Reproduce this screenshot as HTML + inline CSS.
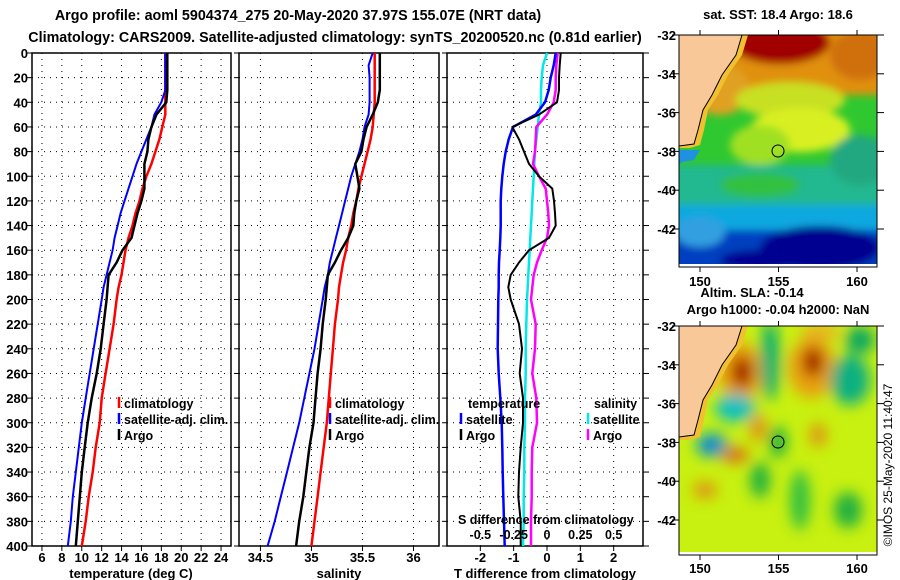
<!DOCTYPE html>
<html><head><meta charset="utf-8"><style>
body{margin:0;background:#fff;width:900px;height:580px;overflow:hidden}
svg{display:block;font-family:"Liberation Sans",sans-serif;font-weight:bold}
</style></head><body>
<svg id="c" width="900" height="580" viewBox="0 0 900 580">
<defs>
<filter id="bl" x="-20%" y="-20%" width="140%" height="140%"><feGaussianBlur stdDeviation="7"/></filter>
<filter id="bl2" x="-20%" y="-20%" width="140%" height="140%"><feGaussianBlur stdDeviation="4"/></filter>
<clipPath id="m1"><rect x="679" y="35" width="198" height="229"/></clipPath>
<clipPath id="m2"><rect x="679" y="326" width="198" height="226"/></clipPath>
</defs>
<text x="298" y="20" font-size="14.3" text-anchor="middle">Argo profile: aoml 5904374_275 20-May-2020 37.97S 155.07E (NRT data)</text>
<text x="335" y="42" font-size="14.3" text-anchor="middle">Climatology: CARS2009. Satellite-adjusted climatology: synTS_20200520.nc (0.81d earlier)</text>

<g>
<text x="778" y="19" font-size="13" text-anchor="middle">sat. SST: 18.4 Argo: 18.6</text>
<g clip-path="url(#m1)">
<rect x="679" y="35" width="198" height="232" fill="#30c830"/>
<g filter="url(#bl2)">
<rect x="670" y="25" width="220" height="70" fill="#e09010"/>
<ellipse cx="780" cy="42" rx="50" ry="22" fill="#a00000"/>
<ellipse cx="860" cy="55" rx="30" ry="25" fill="#d07010"/>
<ellipse cx="720" cy="90" rx="30" ry="25" fill="#e0a020"/>
<ellipse cx="790" cy="100" rx="55" ry="18" fill="#c8e020"/>
<ellipse cx="800" cy="130" rx="50" ry="22" fill="#d8f020"/>
<ellipse cx="760" cy="145" rx="30" ry="20" fill="#a0e020"/>
<rect x="670" y="165" width="220" height="40" fill="#20b890"/>
<ellipse cx="860" cy="160" rx="30" ry="25" fill="#20a880"/>
<ellipse cx="760" cy="185" rx="40" ry="12" fill="#30c040"/>
<rect x="670" y="205" width="220" height="30" fill="#10a8e0"/>
<rect x="670" y="230" width="220" height="45" fill="#0040c0"/>
<ellipse cx="820" cy="248" rx="60" ry="22" fill="#000090"/>
<ellipse cx="760" cy="260" rx="40" ry="10" fill="#000090"/>
<ellipse cx="700" cy="232" rx="25" ry="15" fill="#30a0e0"/>
</g>
<polygon points="679,35 748,35 742,55 728,75 718,95 708,110 704,130 700,145 690,148 679,148" fill="#f0c030"/>
<polygon points="679,35 742,35 736,55 722,75 712,95 703,110 698,130 694,144 679,146" fill="#f8c898" stroke="#000" stroke-width="1"/>
<polygon points="679,150 700,150 694,160 682,162 679,165" fill="#2090e0"/>
</g>
<rect x="679" y="35" width="198" height="232" fill="none" stroke="#000" stroke-width="1"/>
<circle cx="778" cy="151" r="6" fill="none" stroke="#000" stroke-width="1"/>
</g>

<g>
<text x="752" y="297" font-size="13" text-anchor="middle">Altim. SLA: -0.14</text>
<text x="778" y="314" font-size="13" text-anchor="middle">Argo h1000: -0.04 h2000: NaN</text>
<g clip-path="url(#m2)">
<rect x="679" y="326" width="198" height="229" fill="#c8f010"/>
<g filter="url(#bl)">
<ellipse cx="740" cy="372" rx="22" ry="30" fill="#e8a010"/>
<ellipse cx="742" cy="372" rx="10" ry="16" fill="#a00000"/>
<ellipse cx="812" cy="368" rx="24" ry="30" fill="#e8a010"/>
<ellipse cx="813" cy="362" rx="10" ry="15" fill="#a00000"/>
<ellipse cx="770" cy="360" rx="10" ry="40" fill="#10b070"/>
<ellipse cx="850" cy="380" rx="20" ry="25" fill="#10b080"/>
<ellipse cx="735" cy="408" rx="20" ry="14" fill="#10c0c0"/>
<ellipse cx="712" cy="445" rx="16" ry="12" fill="#10a0c0"/>
<ellipse cx="711" cy="446" rx="6" ry="5" fill="#1060e0"/>
<ellipse cx="778" cy="442" rx="9" ry="16" fill="#20b040"/>
<ellipse cx="758" cy="428" rx="8" ry="14" fill="#e09010"/>
<ellipse cx="818" cy="435" rx="8" ry="12" fill="#e09010"/>
<ellipse cx="735" cy="455" rx="14" ry="8" fill="#d87010"/>
<ellipse cx="760" cy="480" rx="10" ry="18" fill="#20b040"/>
<ellipse cx="848" cy="510" rx="14" ry="18" fill="#20b040"/>
<ellipse cx="800" cy="500" rx="10" ry="30" fill="#30c040"/>
<ellipse cx="705" cy="490" rx="12" ry="8" fill="#e09010"/>
<ellipse cx="860" cy="340" rx="15" ry="14" fill="#10a860"/>
<ellipse cx="820" cy="332" rx="20" ry="8" fill="#e8b020"/>
</g>
<polygon points="679,326 748,326 742,345 728,365 718,385 708,400 704,420 700,437 690,440 679,440" fill="#f0c030"/>
<polygon points="679,326 742,326 736,345 722,365 712,385 703,400 698,420 694,435 679,437" fill="#f8c898" stroke="#000" stroke-width="1"/>
</g>
<rect x="679" y="326" width="198" height="229" fill="none" stroke="#000" stroke-width="1"/>
<circle cx="778" cy="442" r="6" fill="none" stroke="#000" stroke-width="1"/>
</g>
<text transform="translate(892,465) rotate(-90)" font-size="12" font-weight="normal" text-anchor="middle">©IMOS 25-May-2020 11:40:47</text>
</svg>
<script>
const depths=[0,10,20,30,40,50,60,70,80,90,100,110,120,130,140,150,160,170,180,190,200,220,240,260,280,300,320,340,360,380,400];
const tempArgo=[18.6,18.6,18.6,18.6,18.5,17.5,17.0,16.7,16.6,16.3,16.3,16.3,16.0,15.6,15.3,15.0,14.1,13.5,12.7,12.6,12.5,12.2,11.9,11.5,11.0,10.6,10.3,10.0,9.8,9.6,9.4];
const tempClim=[18.4,18.4,18.4,18.4,18.4,18.4,18.1,17.8,17.4,17.0,16.5,16.1,15.8,15.4,15.1,14.7,14.4,14.2,14.0,13.7,13.5,13.2,12.8,12.4,12.0,11.8,11.4,11.1,10.7,10.4,10.0];
const tempSat=[18.4,18.4,18.4,18.4,18.0,17.3,17.0,16.5,16.0,15.5,15.1,14.7,14.3,13.9,13.6,13.3,13.1,12.8,12.5,12.2,12.0,11.6,11.2,10.8,10.4,10.0,9.7,9.4,9.1,8.9,8.6];
const salArgo=[35.67,35.67,35.67,35.67,35.65,35.60,35.54,35.51,35.49,35.43,35.45,35.47,35.44,35.42,35.41,35.36,35.29,35.23,35.16,35.15,35.14,35.11,35.09,35.06,35.04,35.02,34.98,34.95,34.92,34.88,34.85];
const salClim=[35.62,35.62,35.62,35.62,35.62,35.61,35.60,35.58,35.55,35.52,35.49,35.46,35.44,35.41,35.39,35.36,35.34,35.31,35.29,35.27,35.26,35.23,35.21,35.19,35.17,35.15,35.12,35.09,35.06,35.03,35.00];
const salSat=[35.60,35.56,35.57,35.57,35.57,35.56,35.52,35.50,35.47,35.43,35.39,35.36,35.33,35.30,35.27,35.24,35.21,35.18,35.16,35.13,35.11,35.07,35.03,34.98,34.93,34.88,34.82,34.76,34.70,34.64,34.57];
const dTsat=[0.26,0.2,0.11,0.05,-0.06,-0.34,-1.02,-1.15,-1.24,-1.30,-1.34,-1.37,-1.39,-1.39,-1.39,-1.40,-1.42,-1.44,-1.45,-1.45,-1.46,-1.47,-1.48,-1.45,-1.40,-1.36,-1.34,-1.33,-1.31,-1.29,-1.27];
const dTargo=[0.41,0.38,0.36,0.36,0.3,-0.24,-1.04,-0.84,-0.69,-0.54,-0.24,0.16,0.21,0.24,0.26,0.06,-0.54,-0.84,-1.09,-1.16,-1.09,-0.84,-0.75,-0.82,-0.72,-0.72,-0.79,-0.84,-0.86,-0.79,-0.79];
const dSsat=[0.0,-0.03,-0.04,-0.045,-0.045,-0.06,-0.07,-0.08,-0.09,-0.095,-0.10,-0.105,-0.11,-0.115,-0.12,-0.125,-0.13,-0.135,-0.14,-0.145,-0.15,-0.155,-0.16,-0.16,-0.165,-0.165,-0.17,-0.17,-0.175,-0.175,-0.18];
const dSargo=[0.08,0.07,0.065,0.065,0.05,0.0,-0.08,-0.085,-0.09,-0.105,-0.06,-0.01,0.0,0.01,0.015,0.0,-0.04,-0.075,-0.1,-0.11,-0.12,-0.085,-0.09,-0.11,-0.08,-0.075,-0.11,-0.115,-0.115,-0.12,-0.12];
const depthTicks=[0,20,40,60,80,100,120,140,160,180,200,220,240,260,280,300,320,340,360,380,400];
const tempTicks=[6,8,10,12,14,16,18,20,22,24];
const salTicks=[34.5,35,35.5,36];
const dTTicks=[-2,-1,0,1,2];
const dSTicks=[-0.5,-0.25,0,0.25,0.5];
const latTicks=[-32,-34,-36,-38,-40,-42];
const lonTicks=[150,155,160];

const NS='http://www.w3.org/2000/svg';
const svg=document.getElementById('c');
function mk(tag,attrs,parent){const e=document.createElementNS(NS,tag);for(const k in attrs)e.setAttribute(k,attrs[k]);(parent||svg).appendChild(e);return e;}
const Y0=53,Y1=546;
function yD(d){return Y0+(Y1-Y0)*d/400;}
const panels=[
 {x0:32,x1:231,v0:5,v1:25,name:'temperature-panel'},
 {x0:239,x1:439,v0:34.29,v1:36.25,name:'salinity-panel'},
 {x0:447,x1:643,v0:-3,v1:2.88,name:'difference-panel'}];
function xf(p,v){return p.x0+(p.x1-p.x0)*(v-p.v0)/(p.v1-p.v0);}
function txt(x,y,s,size,anchor,name){const t=mk('text',{x:x,y:y,'font-size':size,'text-anchor':anchor||'start'});t.textContent=s;


return t;}

panels.forEach((p,i)=>{
 const g=mk('g',{});
 
 
 const ticks=i==0?tempTicks:i==1?salTicks:dTTicks;
 ticks.forEach(v=>{const x=xf(p,v);
  const l=mk('line',{x1:x,x2:x,y1:Y0,y2:Y1,stroke:'#000','stroke-width':1,'stroke-dasharray':'1,5'},g);
  
  
  mk('line',{x1:x,x2:x,y1:Y1,y2:Y1+5,stroke:'#000'},g);
  g.appendChild(txt(x,562,String(v),13,'middle','x-tick-label'));
 });
 depthTicks.forEach(d=>{const y=yD(d);
  if(d>0&&d<400){const l=mk('line',{x1:p.x0,x2:p.x1,y1:y,y2:y,stroke:'#000','stroke-width':1,'stroke-dasharray':'1,5'},g);
  
  }
  mk('line',{x1:p.x0-5,x2:p.x0,y1:y,y2:y,stroke:'#000'},g);
  if(i==2)mk('line',{x1:p.x1,x2:p.x1+6,y1:y,y2:y,stroke:'#000'},g);
 });
 const f=mk('rect',{x:p.x0,y:Y0,width:p.x1-p.x0,height:Y1-Y0,fill:'none',stroke:'#000','stroke-width':1.5},g);
 
 
});
depthTicks.forEach(d=>{svg.appendChild(txt(28,yD(d)+5,String(d),13,'end','depth-tick-label'));});
svg.appendChild(txt(131,578,'temperature (deg C)',13,'middle','temperature-axis-title'));
svg.appendChild(txt(339,578,'salinity',13,'middle','salinity-axis-title'));
svg.appendChild(txt(545,578,'T difference from climatology',13,'middle','t-difference-axis-title'));

function line(p,vals,color,w,name,scale){
 const pts=vals.map((v,k)=>xf(p,v*(scale||1)).toFixed(1)+','+yD(depths[k]).toFixed(1)).join(' ');
 const l=mk('polyline',{points:pts,fill:'none',stroke:color,'stroke-width':w,'stroke-linejoin':'round'});
 
 
}
line(panels[0],tempClim,'#ff0000',2.5,'temperature-climatology-line');
line(panels[0],tempSat,'#0000ff',2,'temperature-satellite-line');
line(panels[0],tempArgo,'#000',2.5,'temperature-argo-line');
line(panels[1],salClim,'#ff0000',2.5,'salinity-climatology-line');
line(panels[1],salSat,'#0000ff',2,'salinity-satellite-line');
line(panels[1],salArgo,'#000',2.5,'salinity-argo-line');
line(panels[2],dSsat,'#00e8e8',2.5,'salinity-diff-satellite-line',4);
line(panels[2],dSargo,'#ff00ff',2.5,'salinity-diff-argo-line',4);
line(panels[2],dTsat,'#0000ff',2.5,'temperature-diff-satellite-line');
line(panels[2],dTargo,'#000',2,'temperature-diff-argo-line');

function leg(x,y,color,label,name){
 const l=mk('line',{x1:x,x2:x,y1:y-6,y2:y+5,stroke:color,'stroke-width':2.5});
 
 
 svg.appendChild(txt(x+5,y+5,label,12.5,'start',name));
}
leg(119,403,'#ff0000','climatology','legend-climatology');
leg(119,419,'#0000ff','satellite-adj. clim.','legend-satellite-adj');
leg(119,435,'#000','Argo','legend-argo');
leg(330,403,'#ff0000','climatology','legend-climatology-sal');
leg(330,419,'#0000ff','satellite-adj. clim.','legend-satellite-adj-sal');
leg(330,435,'#000','Argo','legend-argo-sal');
svg.appendChild(txt(468,408,'temperature',12.5,'start','legend-temperature-heading'));
svg.appendChild(txt(594,408,'salinity',12.5,'start','legend-salinity-heading'));
leg(461,419,'#0000ff','satellite','legend-t-satellite');
leg(461,435,'#000','Argo','legend-t-argo');
leg(588,419,'#00e8e8','satellite','legend-s-satellite');
leg(588,435,'#ff00ff','Argo','legend-s-argo');
svg.appendChild(txt(458,524,'S difference from climatology',12.5,'start','s-difference-axis-title'));
dSTicks.forEach(v=>{svg.appendChild(txt(xf(panels[2],v*4),539,String(v),12.5,'middle','s-tick-label'));});

[[35,267],[326,555]].forEach(([t,b],mi)=>{
 latTicks.forEach(lat=>{const y=t+(-32-lat)*19.4;
  mk('line',{x1:672,x2:679,y1:y,y2:y,stroke:'#000'});
  mk('line',{x1:877,x2:884,y1:y,y2:y,stroke:'#000'});
  svg.appendChild(txt(676,y+5,String(lat),13,'end','latitude-tick-label'));
 });
 lonTicks.forEach(lon=>{const x=700+(lon-150)*15.7;
  mk('line',{x1:x,x2:x,y1:b,y2:b+5,stroke:'#000'});
  mk('line',{x1:x,x2:x,y1:t-5,y2:t,stroke:'#000'});
  svg.appendChild(txt(x,mi==0?286:573,String(lon),13,'middle','longitude-tick-label'));
 });
});
</script>
</body></html>
